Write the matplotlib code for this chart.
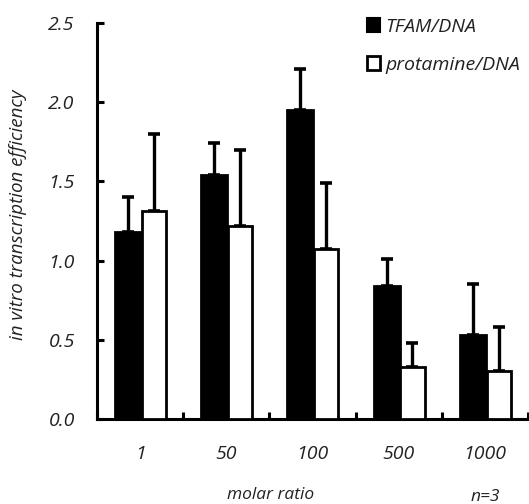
"""Grouped bar chart: in vitro transcription efficiency vs molar ratio."""

import matplotlib
matplotlib.use("Agg")
import matplotlib.pyplot as plt
import numpy as np
from matplotlib.patches import Patch

ratios = ["1", "50", "100", "500", "1000"]
tfam_mean = [1.18, 1.54, 1.95, 0.84, 0.53]
tfam_err = [0.22, 0.20, 0.26, 0.17, 0.32]
protamine_mean = [1.31, 1.22, 1.07, 0.33, 0.30]
protamine_err = [0.49, 0.48, 0.42, 0.15, 0.28]

FONT = "Open Sans"
TEXT = "#222222"
SIZE = 14

fig = plt.figure(figsize=(5.29, 5.04), dpi=100, facecolor="white")
ax = fig.add_axes([0.1834, 0.1687, 0.8146, 0.7857])

x = np.arange(len(ratios))
bar_kw = dict(edgecolor="black", linewidth=2.0, zorder=3)
err_kw = dict(ecolor="black", elinewidth=2.4, capsize=4, capthick=2.6, zorder=2)
ax.bar(x - 0.14, tfam_mean, width=0.3, color="black", **bar_kw)
ax.errorbar(x - 0.14, tfam_mean, yerr=[np.zeros(len(x)), tfam_err], fmt="none", **err_kw)
ax.bar(x + 0.16, protamine_mean, width=0.28, color="white", **bar_kw)
ax.errorbar(x + 0.16, protamine_mean, yerr=[np.zeros(len(x)), protamine_err], fmt="none", **err_kw)

ax.set_xlim(-0.5, len(ratios) - 0.5)
ax.set_ylim(0, 2.5)
ax.set_yticks([0.0, 0.5, 1.0, 1.5, 2.0, 2.5])
ax.set_yticklabels([f"{v:.1f}" for v in ax.get_yticks()])
ax.set_xticks(np.arange(len(ratios) + 1) - 0.5)
ax.set_xticklabels([])
ax.tick_params(axis="both", direction="in", length=5, width=2.2, colors="black")
ax.tick_params(axis="y", pad=16, labelsize=SIZE, labelcolor=TEXT)
for label in ax.get_yticklabels():
    label.set_fontfamily(FONT)
    label.set_fontstyle("italic")

for pos, name in zip(x, ratios):
    ax.text(pos, -0.22, name, ha="center", va="center", fontsize=SIZE, color=TEXT,
            family=FONT, style="italic", transform=ax.transData, clip_on=False)

ax.spines[["top", "right"]].set_visible(False)
ax.spines[["left", "bottom"]].set_linewidth(2.2)

fig.text(0.034, 0.573, "in vitro transcription efficiency", rotation=90, ha="center",
         va="center", fontsize=13.5, color=TEXT, family=FONT, style="italic")
fig.text(0.512, 0.018, "molar ratio", ha="center", va="center", fontsize=12.5,
         color=TEXT, family=FONT, style="italic")
fig.text(0.918, 0.014, "n=3", ha="center", va="center", fontsize=12.5,
         color=TEXT, family=FONT, style="italic")

handles = [Patch(facecolor="black", edgecolor="black", linewidth=1.5),
           Patch(facecolor="white", edgecolor="black", linewidth=2.0)]
leg = fig.legend(handles, ["TFAM/DNA", "protamine/DNA"], loc="upper left",
                 bbox_to_anchor=(0.66, 1.0), frameon=False, handlelength=0.7,
                 handleheight=0.75, handletextpad=0.25, labelspacing=1.05,
                 prop={"family": FONT, "style": "italic", "size": SIZE})
for t in leg.get_texts():
    t.set_color(TEXT)

fig.savefig("out.png", dpi=100, facecolor="white")
